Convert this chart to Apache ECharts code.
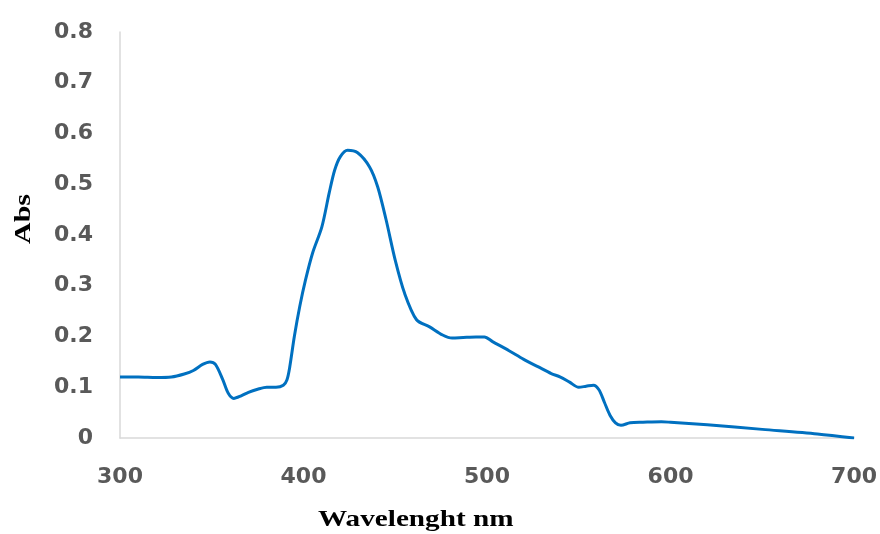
<!DOCTYPE html>
<html>
<head>
<meta charset="utf-8">
<script src="https://cdn.jsdelivr.net/npm/echarts@6/dist/echarts.min.js"></script>
<style>
* { margin: 0; padding: 0; }
body { background: #fff; }
#chart { width: 880px; height: 534px; }
</style>
</head>
<body>
<div id="chart"></div>
<script>
// wavelength (nm) and absorbance
var wavelength = [300, 310, 320, 328, 335, 340, 345, 349, 352, 356, 359, 362, 366, 370, 375, 380, 385, 389, 391, 392.5, 395, 398, 401, 405, 410, 414, 417, 420, 424, 429.5, 436, 440.4, 445, 450, 455, 461.6, 468.7, 475.8, 481, 487, 494, 498.6, 503, 512, 520, 528, 535, 540, 545, 550, 554, 558, 561, 564, 567, 570, 573, 578, 585, 595, 600, 620, 650, 680, 700];
var absorbance = [0.12, 0.12, 0.119, 0.12, 0.126, 0.133, 0.145, 0.15, 0.145, 0.115, 0.088, 0.078, 0.083, 0.09, 0.096, 0.1, 0.1, 0.104, 0.115, 0.14, 0.2, 0.26, 0.31, 0.365, 0.416, 0.483, 0.528, 0.554, 0.567, 0.562, 0.534, 0.495, 0.43, 0.35, 0.286, 0.233, 0.219, 0.203, 0.197, 0.198, 0.199, 0.199, 0.19, 0.172, 0.155, 0.14, 0.127, 0.12, 0.11, 0.1, 0.102, 0.104, 0.095, 0.07, 0.045, 0.03, 0.025, 0.03, 0.031, 0.032, 0.031, 0.026, 0.017, 0.008, 0.0];

var points = wavelength.map(function (w, i) { return [w, absorbance[i]]; });

var chart = echarts.init(document.getElementById('chart'));
chart.setOption({
  animation: false,
  grid: { left: 120, right: 25, top: 32, bottom: 96 },
  graphic: [
    {
      type: 'text', x: 318, y: 509, scaleX: 1.27,
      style: { text: 'Wavelenght nm', font: 'bold 23px "Liberation Serif"', fill: '#000', verticalAlign: 'top' }
    },
    {
      type: 'text', x: 24, y: 219, rotation: Math.PI / 2, scaleX: 1.3,
      style: { text: 'Abs', font: 'bold 23px "Liberation Serif"', fill: '#000', align: 'center', verticalAlign: 'middle' }
    }
  ],
  xAxis: {
    type: 'value', min: 300, max: 700, interval: 100,
    axisLine: { show: true, lineStyle: { color: '#d9d9d9', width: 1.5 } },
    axisTick: { show: false },
    splitLine: { show: false },
    axisLabel: { color: '#595959', fontSize: 22, fontWeight: 'bold', fontFamily: 'DejaVu Sans', margin: 28 }
  },
  yAxis: {
    type: 'value', min: 0, max: 0.8, interval: 0.1,
    axisLine: { show: true, lineStyle: { color: '#d9d9d9', width: 1.5 } },
    axisTick: { show: false },
    splitLine: { show: false },
    axisLabel: { color: '#595959', fontSize: 22, fontWeight: 'bold', fontFamily: 'DejaVu Sans', margin: 27,
      formatter: function (v) { return v === 0 ? '0' : v.toFixed(1); } }
  },
  series: [{
    type: 'line',
    data: points,
    smooth: 0.3,
    showSymbol: false,
    lineStyle: { color: '#0070c0', width: 3 }
  }]
});
</script>
</body>
</html>
